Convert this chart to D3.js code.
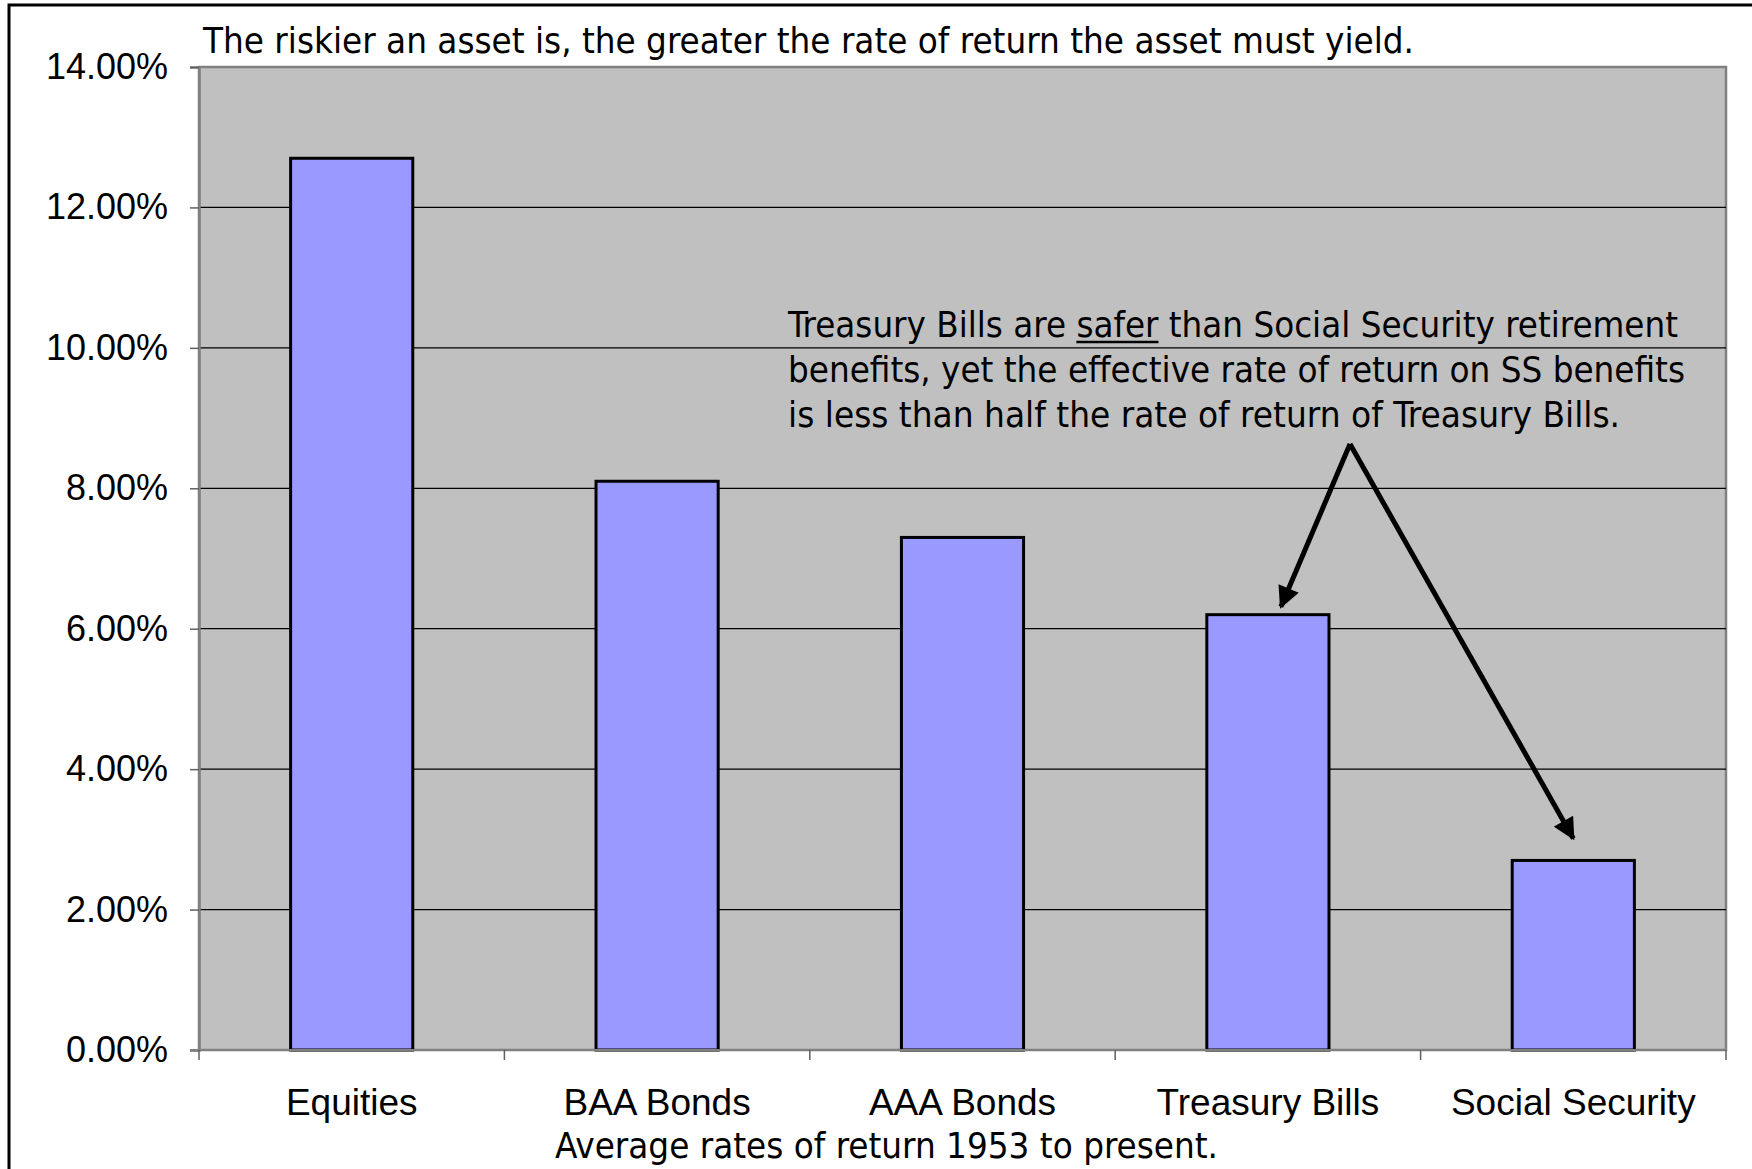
<!DOCTYPE html>
<html>
<head>
<meta charset="utf-8">
<script src="https://cdn.jsdelivr.net/npm/d3@7"></script>
<style>
  html, body { margin: 0; padding: 0; background: #ffffff; }
  svg { display: block; }
  .tahoma { font-family: 'DejaVu Sans Condensed', 'DejaVu Sans', sans-serif; font-stretch: condensed; }
</style>
</head>
<body>
<svg id="chart" width="1752" height="1169"></svg>
<script>
// Average annual rates of return by asset class (percent)
const categories = ["Equities", "BAA Bonds", "AAA Bonds", "Treasury Bills", "Social Security"];
const returns = [12.7, 8.1, 7.3, 6.2, 2.7];
const yTicks = [0, 2, 4, 6, 8, 10, 12, 14];

const titleText = "The riskier an asset is, the greater the rate of return the asset must yield.";
const xTitleText = "Average rates of return 1953 to present.";
const noteLines = [
  "Treasury Bills are safer than Social Security retirement",
  "benefits, yet the effective rate of return on SS benefits",
  "is less than half the rate of return of Treasury Bills."
];
const emphasisWord = "safer";

const svg = d3.select("#chart");
const plot = { left: 199, right: 1726, top: 67, bottom: 1050 };

// Outer frame
svg.append("rect")
  .attr("x", 9).attr("y", 5)
  .attr("width", 1800).attr("height", 1300)
  .attr("fill", "none").attr("stroke", "#000").attr("stroke-width", 3);

const x = d3.scaleBand()
  .domain(categories)
  .range([plot.left, plot.right])
  .paddingInner(0.6)
  .paddingOuter(0.3);

const y = d3.scaleLinear().domain([0, 14]).range([plot.bottom, plot.top]);

// Plot area background
svg.append("rect")
  .attr("x", plot.left).attr("y", plot.top)
  .attr("width", plot.right - plot.left).attr("height", plot.bottom - plot.top)
  .attr("fill", "#c0c0c0").attr("stroke", "#808080").attr("stroke-width", 2.5);

// Horizontal gridlines
svg.append("g").selectAll("line")
  .data(yTicks.filter(d => d > 0 && d < 14))
  .join("line")
  .attr("x1", plot.left).attr("x2", plot.right)
  .attr("y1", d => y(d)).attr("y2", d => y(d))
  .attr("stroke", "#000").attr("stroke-width", 1.2);

// Bars
svg.append("g").selectAll("rect")
  .data(returns)
  .join("rect")
  .attr("x", (d, i) => x(categories[i]))
  .attr("y", d => y(d))
  .attr("width", x.bandwidth())
  .attr("height", d => y(0) - y(d))
  .attr("fill", "#9999ff")
  .attr("stroke", "#000").attr("stroke-width", 3);

// Y axis
const yAxis = svg.append("g")
  .attr("transform", `translate(${plot.left},0)`)
  .call(d3.axisLeft(y).tickValues(yTicks).tickSize(9).tickPadding(22)
    .tickFormat(d => d.toFixed(2) + "%"));
yAxis.select(".domain").attr("stroke", "#808080").attr("stroke-width", 2.5);
yAxis.selectAll(".tick line").attr("stroke", "#606060").attr("stroke-width", 1.5);
yAxis.selectAll(".tick text")
  .attr("font-family", "'Liberation Sans', Arial, sans-serif")
  .attr("font-size", 36).attr("fill", "#000");

// X axis baseline and category boundary ticks
const bounds = d3.range(categories.length + 1).map(i => plot.left + i * x.step());
svg.append("line")
  .attr("x1", plot.left - 9).attr("x2", plot.right)
  .attr("y1", y(0)).attr("y2", y(0))
  .attr("stroke", "#808080").attr("stroke-width", 2);
svg.append("g").selectAll("line")
  .data(bounds)
  .join("line")
  .attr("x1", d => d).attr("x2", d => d)
  .attr("y1", y(0)).attr("y2", y(0) + 10)
  .attr("stroke", "#606060").attr("stroke-width", 1.5);

// Category labels
svg.append("g").selectAll("text")
  .data(categories)
  .join("text")
  .attr("x", d => x(d) + x.bandwidth() / 2)
  .attr("y", 1115)
  .attr("text-anchor", "middle")
  .attr("font-family", "'Liberation Sans', Arial, sans-serif")
  .attr("font-size", 37)
  .text(d => d);

// Chart title
svg.append("text")
  .attr("class", "tahoma")
  .attr("x", 203).attr("y", 53)
  .attr("font-size", 36)
  .attr("textLength", 1211).attr("lengthAdjust", "spacingAndGlyphs")
  .text(titleText);

// X axis title
svg.append("text")
  .attr("class", "tahoma")
  .attr("x", 555).attr("y", 1158)
  .attr("font-size", 36)
  .attr("textLength", 663).attr("lengthAdjust", "spacingAndGlyphs")
  .text(xTitleText);

// Annotation text
const noteWidths = [890, 897, 832];
const note = svg.append("g")
  .attr("class", "tahoma")
  .attr("font-size", 36);
noteLines.forEach((line, i) => {
  const t = note.append("text")
    .attr("x", 788).attr("y", 337 + i * 45)
    .attr("textLength", noteWidths[i]).attr("lengthAdjust", "spacingAndGlyphs")
    .text(line);
  const k = line.indexOf(emphasisWord);
  if (k >= 0) {
    // underline the emphasised word
    const node = t.node();
    const x0 = node.getStartPositionOfChar(k).x;
    const x1 = node.getEndPositionOfChar(k + emphasisWord.length - 1).x;
    note.append("line")
      .attr("x1", x0).attr("x2", x1)
      .attr("y1", 337 + i * 45 + 5).attr("y2", 337 + i * 45 + 5)
      .attr("stroke", "#000").attr("stroke-width", 2.5);
  }
});

// Arrows from the note to the Treasury Bills and Social Security bars
const defs = svg.append("defs");
defs.append("marker")
  .attr("id", "head")
  .attr("viewBox", "0 0 10 10")
  .attr("refX", 9).attr("refY", 5)
  .attr("markerWidth", 4.6).attr("markerHeight", 4.4)
  .attr("markerUnits", "strokeWidth")
  .attr("orient", "auto")
  .append("path").attr("d", "M0,0 L10,5 L0,10 Z").attr("fill", "#000");

const apex = [1350, 444];
const tbIdx = categories.indexOf("Treasury Bills");
const ssIdx = categories.indexOf("Social Security");
const targets = [
  [x(categories[tbIdx]) + x.bandwidth() / 2 + 13, y(returns[tbIdx]) - 8],
  [x(categories[ssIdx]) + x.bandwidth() / 2, y(returns[ssIdx]) - 22]
];
svg.append("g").selectAll("line")
  .data(targets)
  .join("line")
  .attr("x1", apex[0]).attr("y1", apex[1])
  .attr("x2", d => d[0]).attr("y2", d => d[1])
  .attr("stroke", "#000").attr("stroke-width", 5)
  .attr("marker-end", "url(#head)");
</script>
</body>
</html>
